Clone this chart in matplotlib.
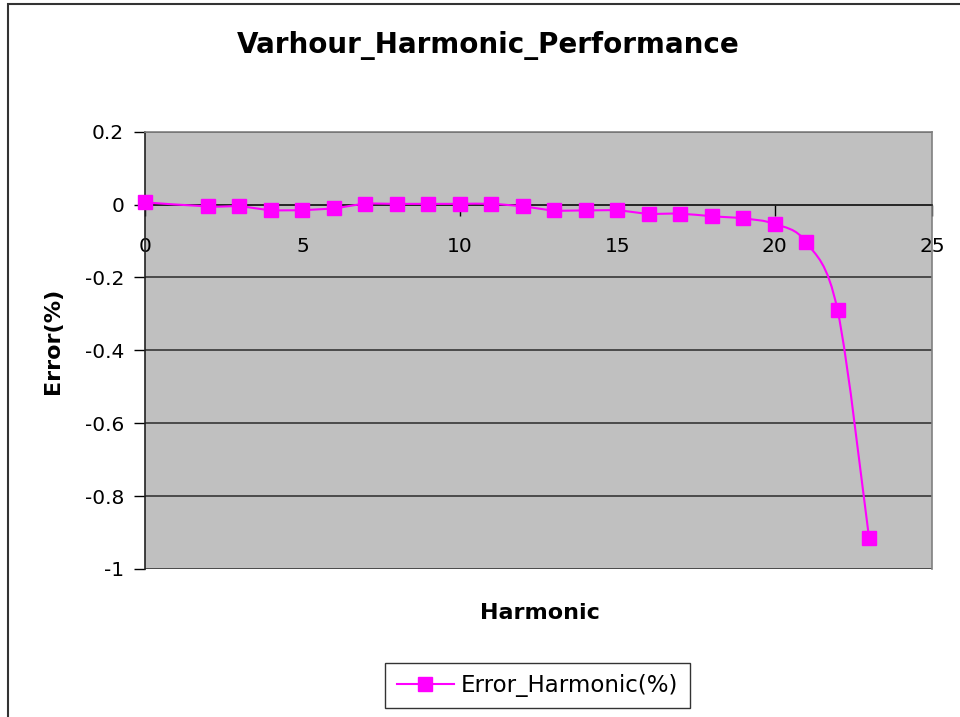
import numpy as np
import matplotlib
matplotlib.use('Agg')
import matplotlib.pyplot as plt
from matplotlib.path import Path
from matplotlib.patches import PathPatch, Rectangle
from matplotlib.lines import Line2D

plt.rcParams['font.family'] = ['DejaVu Sans']

# data
harmonic = [0, 2, 3, 4, 5, 6, 7, 8, 9, 10, 11, 12, 13, 14, 15, 16, 17, 18, 19, 20, 21, 22, 23]
error = [0.006, -0.005, -0.005, -0.015, -0.015, -0.010, 0.002, 0.002, 0.002, 0.002, 0.002,
         -0.005, -0.016, -0.016, -0.016, -0.025, -0.025, -0.032, -0.038, -0.053, -0.103,
         -0.29, -0.914]
yticks = [0.2, 0, -0.2, -0.4, -0.6, -0.8, -1]
ytick_labels = ['0.2', '0', '-0.2', '-0.4', '-0.6', '-0.8', '-1']
xticks = [0, 5, 10, 15, 20, 25]

MAG = '#FF00FF'


def smooth_path(x, y):
    # excel-style smoothed line: bezier segments with catmull-rom control points
    pts = np.column_stack([x, y]).astype(float)
    n = len(pts)
    verts = [pts[0]]
    codes = [Path.MOVETO]
    for i in range(n - 1):
        p0 = pts[max(i - 1, 0)]
        p1 = pts[i]
        p2 = pts[i + 1]
        p3 = pts[min(i + 2, n - 1)]
        c1 = p1 + (p2 - p0) / 6.0
        c2 = p2 - (p3 - p1) / 6.0
        verts += [c1, c2, p2]
        codes += [Path.CURVE4] * 3
    return Path(verts, codes)


fig = plt.figure(figsize=(9.6, 7.17), dpi=100)
ax = fig.add_axes([145 / 960, 1 - 569 / 717, 787 / 960, 437.3 / 717])
ax.set_facecolor('#C0C0C0')
ax.set_xlim(0, 25)
ax.set_ylim(-1, 0.2)

# gridlines
for v in yticks:
    ax.axhline(v, color='#2a2a2a', lw=1.1, zorder=1)

ax.spines['bottom'].set_position(('data', 0))
ax.spines['bottom'].set_color('#222222')
ax.spines['left'].set_color('#222222')
ax.spines['top'].set_color('#808080')
ax.spines['right'].set_color('#808080')
for s in ax.spines.values():
    s.set_linewidth(1.2)

ax.set_yticks(yticks)
ax.set_yticklabels(ytick_labels)
ax.set_xticks(xticks)
ax.set_xticklabels([str(t) for t in xticks])
ax.tick_params(axis='y', direction='out', length=8, width=1, pad=7, labelsize=14.5)
ax.tick_params(axis='x', direction='out', length=8, width=1, pad=15, labelsize=14.5)

ax.add_patch(PathPatch(smooth_path(harmonic, error), facecolor='none',
                       edgecolor=MAG, lw=1.5, zorder=3))
ax.plot(harmonic, error, linestyle='none', marker='s', ms=9.4, color=MAG,
        markeredgecolor=MAG, zorder=4, clip_on=False)

fig.text(488 / 960, 1 - 46 / 717, 'Varhour_Harmonic_Performance',
         fontsize=20, fontweight='bold', ha='center', va='center')
fig.text(53 / 960, 1 - 341 / 717, 'Error(%)', fontsize=16, fontweight='bold',
         rotation=90, ha='center', va='center')
fig.text(540 / 960, 1 - 613 / 717, 'Harmonic', fontsize=16, fontweight='bold',
         ha='center', va='center')

handle = Line2D([], [], color=MAG, lw=1.5, marker='s', ms=9.4)
leg = fig.legend([handle], ['Error_Harmonic(%)'], loc='center',
                 bbox_to_anchor=(537.5 / 960, 1 - 685.5 / 717), fontsize=16.5,
                 frameon=True, fancybox=False, handlelength=2.5, handletextpad=0.3,
                 borderpad=0.5, borderaxespad=0)
leg.get_frame().set_edgecolor('black')
leg.get_frame().set_linewidth(1.0)

# chart-area border (runs off the right and bottom edges)
fig.add_artist(Rectangle((8 / 960, -0.2), 1.5, 1.2 - 4 / 717, transform=fig.transFigure,
                         fill=False, edgecolor='#333333', lw=1.5))

fig.savefig('out.png', dpi=100)
